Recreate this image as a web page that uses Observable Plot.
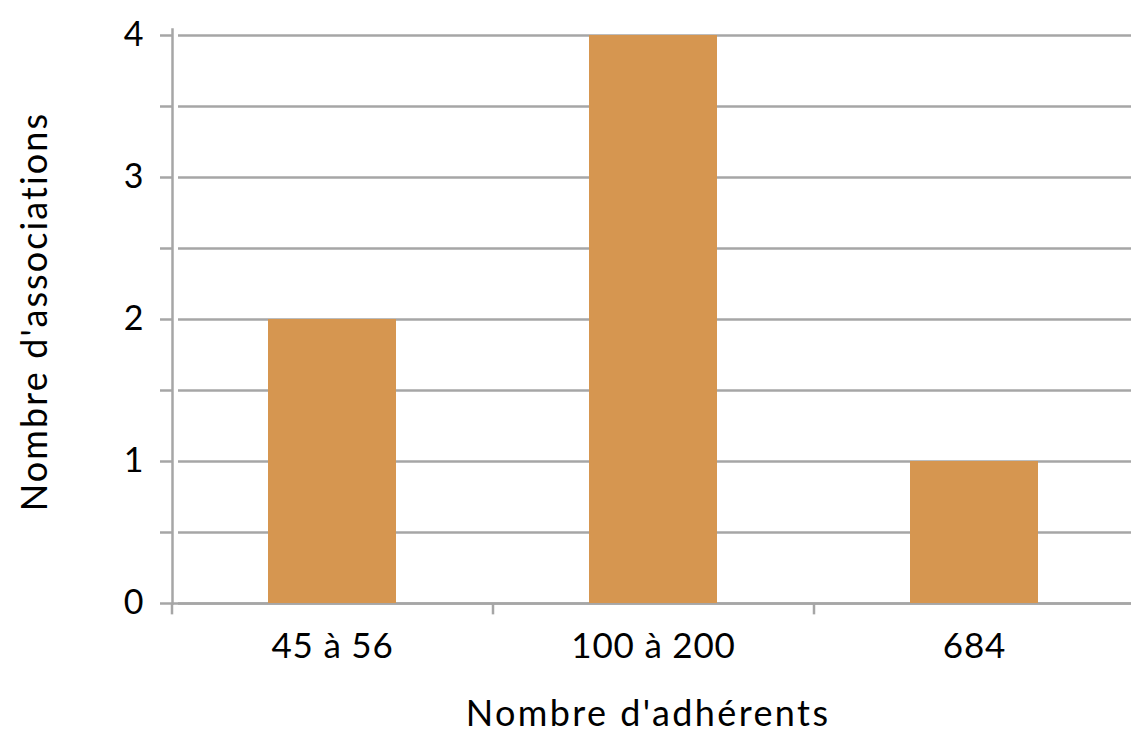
<!DOCTYPE html>
<html><head><meta charset="utf-8">
<script src="https://cdn.jsdelivr.net/npm/d3@7"></script>
<script src="https://cdn.jsdelivr.net/npm/@observablehq/plot@0.6"></script>
<style>
body{margin:0;background:#fff}
g[aria-label="x-axis tick label"] text{letter-spacing:0.8px}
</style>
</head><body><div id="chart"></div>
<script>
const categories = ["45 à 56", "100 à 200", "684"];
const counts = [2, 4, 1];
const yTicks = [0, 0.5, 1, 1.5, 2, 2.5, 3, 3.5, 4];
const xTitle = "Nombre d'adhérents";
const yTitle = "Nombre d'associations";

const data = categories.map((c, i) => ({category: c, count: counts[i]}));
const W = 1131, H = 733, mL = 172, mR = -4, mT = 35, mB = 130;
const step = (W - mL - mR) / categories.length;
const grey = "#a6a6a6";
const font = "Lato, 'Open Sans', sans-serif";

const plot = Plot.plot({
  width: W, height: H,
  marginLeft: mL, marginRight: mR, marginTop: mT, marginBottom: mB,
  style: {fontFamily: font, fontSize: "33px", color: "#000", background: "#fff", overflow: "visible"},
  x: {domain: categories, paddingInner: 0.6, paddingOuter: 0.3, label: null},
  y: {domain: [0, 4], label: null},
  marks: [
    Plot.gridY(yTicks, {stroke: grey, strokeOpacity: 1, strokeWidth: 2.5, insetLeft: 6}),
    Plot.ruleY([0], {stroke: grey, strokeWidth: 2.5}),
    Plot.barY(data, {x: "category", y: "count", fill: "#d69650"}),
    Plot.frame({anchor: "left", stroke: grey, strokeWidth: 2.5, insetTop: -6}),
    Plot.ruleX(categories, {x: d => d, y1: 0, y2: -0.08, dx: -step / 2, stroke: grey, strokeWidth: 2.5}),
    Plot.axisY(yTicks, {tickSize: 12, tickPadding: 17, stroke: grey, strokeWidth: 2.5, fill: "#000",
      tickFormat: d => Number.isInteger(d) ? String(d) : "", label: null, fontSize: 34}),
    Plot.axisX({tickSize: 0, tickPadding: 30, label: null, fill: "#000", fontSize: 35}),
    Plot.text([xTitle], {text: d => d, frameAnchor: "bottom", dy: 122, dx: -6, lineAnchor: "bottom",
      fontSize: 36, fill: "#000"}),
    Plot.text([yTitle], {text: d => d, frameAnchor: "left", textAnchor: "middle", rotate: -90, dx: -126, dy: -8,
      lineAnchor: "bottom", fontSize: 36, fill: "#000"})
  ]
});
d3.select(plot).selectAll("text").each(function () {
  const t = this.textContent;
  if (t === xTitle) this.style.letterSpacing = "2.4px";
  if (t === yTitle) this.style.letterSpacing = "2.1px";
});
document.getElementById("chart").append(plot);
</script>
</body></html>
